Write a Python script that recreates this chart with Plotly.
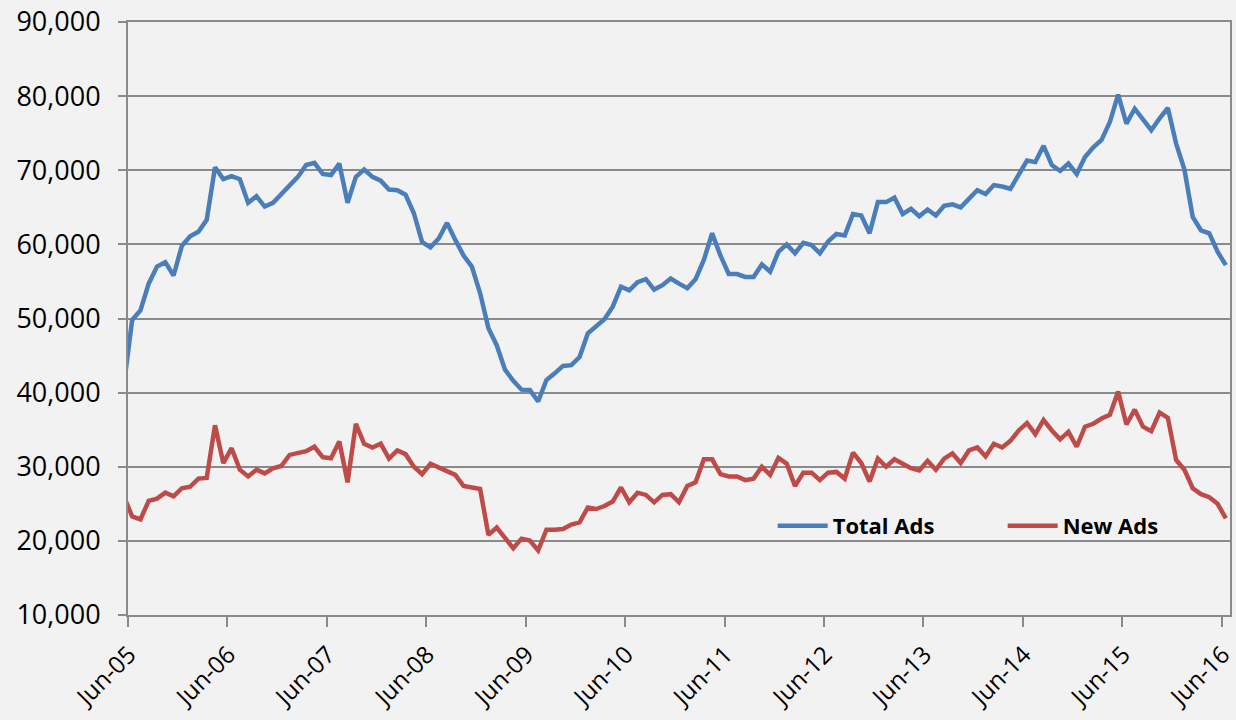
import plotly.graph_objects as go

# Monthly series; the first value (May-05) lies just left of the axis start and is clipped
month_names = ["Jun", "Jul", "Aug", "Sep", "Oct", "Nov", "Dec", "Jan", "Feb", "Mar", "Apr", "May"]
months = ["May-05"] + [f"{month_names[i % 12]}-{5 + (i + 5) // 12:02d}" for i in range(133)]

total_ads = [
    41000,
    49800, 51100, 54700, 57000, 57600, 55800, 59800, 61100, 61700, 63300, 70400, 68800,
    69200, 68800, 65600, 66500, 65100, 65600, 66800, 68100, 69100, 70700, 71000, 69500,
    69350, 70900, 65600, 69100, 70100, 69100, 68600, 67400, 67300, 66700, 64200, 60300,
    59600, 60800, 62900, 60600, 58500, 57000, 53400, 48700, 46400, 43100, 41600, 40400,
    40350, 38800, 41700, 42600, 43600, 43700, 44800, 48000, 49000, 49900, 51600, 54300,
    53800, 54900, 55300, 53900, 54500, 55400, 54700, 54100, 55300, 57900, 61500, 58500,
    56000, 56000, 55600, 55600, 57300, 56300, 59000, 60000, 58800, 60200, 59900, 58800,
    60400, 61400, 61200, 64100, 63900, 61500, 65700, 65700, 66300, 64100, 64800, 63800,
    64700, 63900, 65200, 65400, 65000, 66200, 67300, 66800, 68000, 67800, 67500, 69400,
    71300, 71100, 73300, 70700, 69900, 70900, 69500, 71800, 73100, 74100, 76500, 80200,
    76300, 78300, 76800, 75400, 77000, 78400, 73600, 70100, 63700, 61900, 61500, 59000,
    57200,
]

new_ads = [
    26000,
    23300, 22900, 25400, 25700, 26500, 26000, 27100, 27300, 28400, 28500, 35600, 30500,
    32500, 29600, 28700, 29600, 29100, 29800, 30100, 31600, 31800, 32100, 32700, 31300,
    31150, 33400, 27900, 35800, 33100, 32600, 33100, 31100, 32200, 31700, 30000, 29000,
    30400, 29900, 29500, 28900, 27400, 27200, 27000, 20800, 21800, 20400, 19000, 20300,
    20050, 18700, 21500, 21500, 21600, 22200, 22500, 24500, 24300, 24700, 25300, 27200,
    25200, 26500, 26200, 25200, 26200, 26300, 25200, 27400, 27900, 31000, 31000, 29000,
    28700, 28700, 28200, 28400, 30000, 28900, 31200, 30400, 27400, 29200, 29200, 28200,
    29200, 29300, 28400, 31900, 30500, 28000, 31100, 30000, 31000, 30400, 29800, 29500,
    30800, 29600, 31100, 31800, 30500, 32200, 32600, 31400, 33100, 32600, 33500, 34900,
    35900, 34400, 36300, 34900, 33700, 34700, 32700, 35400, 35800, 36500, 37000, 40150,
    35700, 37700, 35400, 34800, 37300, 36600, 30900, 29600, 27100, 26300, 25900, 25000,
    23050,
]

tick_labels = ["Jun-05", "Jun-06", "Jun-07", "Jun-08", "Jun-09", "Jun-10",
               "Jun-11", "Jun-12", "Jun-13", "Jun-14", "Jun-15", "Jun-16"]
y_ticks = [10000, 20000, 30000, 40000, 50000, 60000, 70000, 80000, 90000]

x_idx = list(range(-1, len(total_ads) - 1))
tick_pos = [-0.5 + 12 * j for j in range(len(tick_labels))]

fig = go.Figure()
fig.add_trace(go.Scatter(x=x_idx, y=total_ads, mode="lines", name="Total Ads",
                         text=months, line=dict(color="#4A7EBB", width=4.5)))
fig.add_trace(go.Scatter(x=x_idx, y=new_ads, mode="lines", name="New Ads",
                         text=months, line=dict(color="#BE4B48", width=4.5)))

grid = "#8A8A8A"
fig.update_layout(
    width=1236, height=720,
    margin=dict(l=128, r=6, t=22, b=105, autoexpand=False),
    paper_bgcolor="#F2F2F2", plot_bgcolor="#F2F2F2",
    font=dict(family="Open Sans", size=27, color="#000000"),
    showlegend=True,
    legend=dict(orientation="h", x=0.585, xanchor="left", y=0.150, yanchor="middle",
                bgcolor="rgba(0,0,0,0)", font=dict(family="Open Sans", size=22, weight="bold"),
                entrywidth=165, entrywidthmode="pixels", itemwidth=50),
    xaxis=dict(range=[-0.5, 132.5], tickmode="array", tickvals=tick_pos, ticktext=tick_labels,
               tickangle=-45, ticks="outside", ticklen=10, tickwidth=2, tickcolor=grid,
               ticklabeloverflow="allow", ticklabelstandoff=4, ticklabelshift=1,
               tickfont=dict(size=24),
               showline=True, linecolor=grid, linewidth=2, mirror=True,
               showgrid=False, zeroline=False),
    yaxis=dict(range=[10000, 90000], tickmode="array", tickvals=y_ticks, tickformat=",d",
               ticks="outside", ticklen=8, tickwidth=2, tickcolor=grid, ticklabelstandoff=12,
               showline=True, linecolor=grid, linewidth=2, mirror=True,
               showgrid=True, gridcolor=grid, gridwidth=2, zeroline=False),
)

fig.write_html(
    "out.html",
    config={"displayModeBar": False},
    post_script="document.body.style.margin='0';document.body.style.background='#F2F2F2';",
)
